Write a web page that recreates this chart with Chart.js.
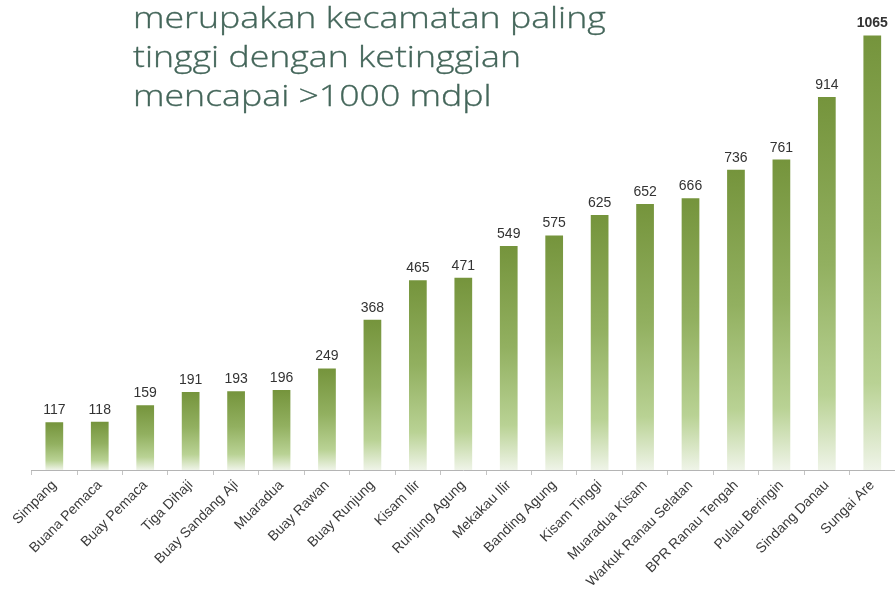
<!DOCTYPE html>
<html>
<head>
<meta charset="utf-8">
<script src="https://cdn.jsdelivr.net/npm/chart.js@4.4.1/dist/chart.umd.min.js"></script>
<style>
  html, body { margin: 0; padding: 0; background: #ffffff; }
  #wrap { position: relative; width: 895px; height: 603px; }
  #c { position: absolute; left: 0; top: 0; }
  .title { position: absolute; left: 133px; font-family: "Open Sans", sans-serif; font-weight: 300; font-size: 29px; color: #44665a; white-space: nowrap; line-height: 1; transform: scaleX(1.23); transform-origin: 0 0; -webkit-text-stroke: 0.3px #44665a; }
</style>
</head>
<body>
<div id="wrap">
  <canvas id="c" width="895" height="603"></canvas>
  <div class="title" style="top:2px">merupakan kecamatan paling</div>
  <div class="title" style="top:41px">tinggi dengan ketinggian</div>
  <div class="title" style="top:80px">mencapai &gt;1000 mdpl</div>
</div>
<script>
const categories = ["Simpang","Buana Pemaca","Buay Pemaca","Tiga Dihaji","Buay Sandang Aji","Muaradua","Buay Rawan","Buay Runjung","Kisam Ilir","Runjung Agung","Mekakau Ilir","Banding Agung","Kisam Tinggi","Muaradua Kisam","Warkuk Ranau Selatan","BPR Ranau Tengah","Pulau Beringin","Sindang Danau","Sungai Are"];
const elevations = [117,118,159,191,193,196,249,368,465,471,549,575,625,652,666,736,761,914,1065];
const boldLabels = [18];

const valueLabels = {
  id: 'valueLabels',
  afterDatasetsDraw(chart) {
    const ctx = chart.ctx;
    const meta = chart.getDatasetMeta(0);
    ctx.save();
    ctx.textAlign = 'center';
    ctx.textBaseline = 'alphabetic';
    ctx.fillStyle = '#333333';
    meta.data.forEach((bar, i) => {
      ctx.font = (boldLabels.includes(i) ? 'bold ' : '') + '14px "Liberation Sans", Arial, sans-serif';
      ctx.fillText(String(elevations[i]), bar.x, bar.y - 8);
    });
    ctx.restore();
  }
};

new Chart(document.getElementById('c'), {
  type: 'bar',
  data: {
    labels: categories,
    datasets: [{
      data: elevations,
      backgroundColor: (context) => {
        const chart = context.chart;
        if (!chart.chartArea || !chart.scales.y) return '#8aaa50';
        const y0 = chart.scales.y.getPixelForValue(0);
        const y1 = chart.scales.y.getPixelForValue(context.raw);
        if (!isFinite(y0) || !isFinite(y1) || y0 === y1) return '#8aaa50';
        const g = chart.ctx.createLinearGradient(0, y1, 0, y0);
        g.addColorStop(0, '#75943c');
        g.addColorStop(0.45, '#92b060');
        g.addColorStop(0.8, '#b9d294');
        g.addColorStop(1, '#eff4e8');
        return g;
      },
      borderWidth: 0,
      barPercentage: 0.39,
      categoryPercentage: 1.0
    }]
  },
  options: {
    responsive: false,
    animation: false,
    events: [],
    layout: { padding: { left: 31.6, right: 0, top: 0, bottom: 0 } },
    plugins: { legend: { display: false }, tooltip: { enabled: false }, title: { display: false } },
    scales: {
      x: {
        offset: true,
        grid: { display: true, drawOnChartArea: false, drawTicks: true, tickLength: 5, color: '#c4c4c4', offset: true },
        border: { display: true, color: '#b4b4b4', width: 1 },
        ticks: {
          autoSkip: false,
          minRotation: 45,
          maxRotation: 45,
          padding: 2,
          color: '#3a3a3a',
          font: { family: '"Liberation Sans", Arial, sans-serif', size: 14 }
        },
        afterFit(scale) { scale.paddingLeft = 0; scale.paddingRight = 0; scale.height = 133; }
      },
      y: {
        display: false,
        min: 0,
        max: 1152
      }
    }
  },
  plugins: [valueLabels]
});
</script>
</body>
</html>
